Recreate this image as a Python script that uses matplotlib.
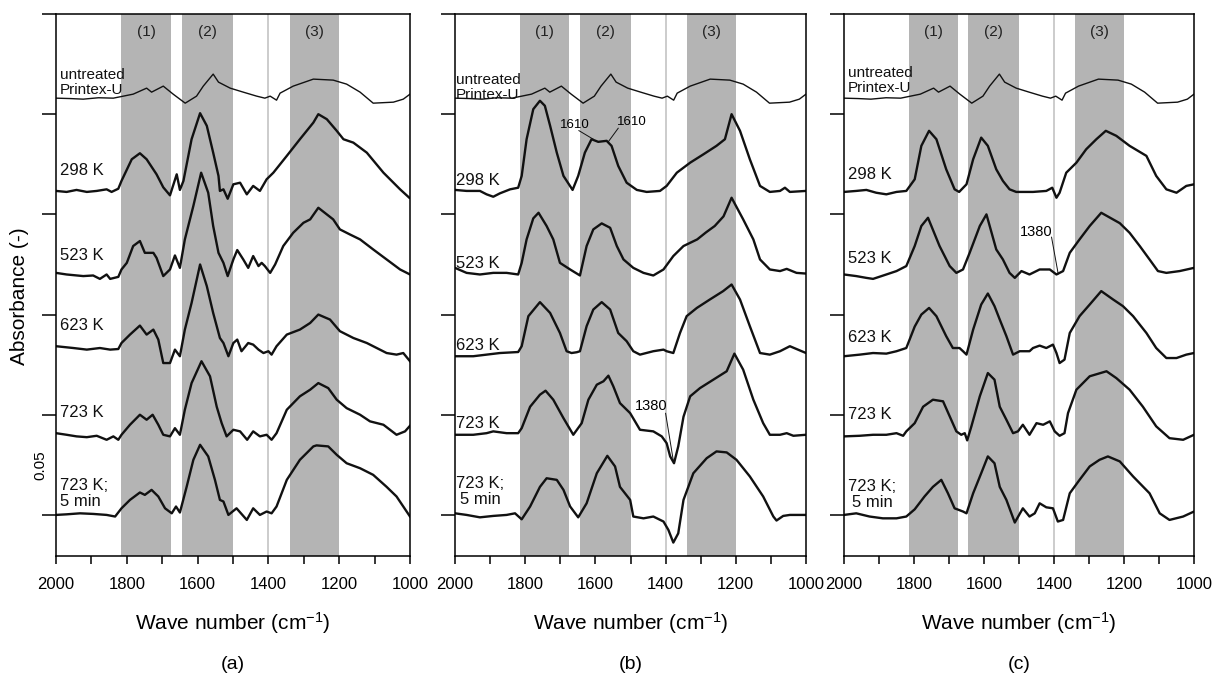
import matplotlib
matplotlib.use('Agg')
import matplotlib.pyplot as plt
from matplotlib.ticker import MultipleLocator
from matplotlib.transforms import blended_transform_factory

plt.rcParams['font.family'] = ['Liberation Sans', 'DejaVu Sans']
plt.rcParams['mathtext.fontset'] = 'custom'
plt.rcParams['mathtext.rm'] = 'Liberation Sans'
plt.rcParams['mathtext.default'] = 'regular'

# ---- data: wave number (cm-1) / absorbance (stacked, as plotted) ----
untreated_wn = [2000, 1960, 1923, 1880, 1838, 1810, 1782, 1744, 1730, 1697, 1669, 1635, 1603, 1584, 1556,
                1541, 1508, 1471, 1433, 1410, 1395, 1377, 1367, 1330, 1273, 1217, 1179, 1141, 1104,
                1047, 1019, 1000]
untreated_abs = [0.208, 0.2078, 0.2075, 0.2082, 0.208, 0.209, 0.210, 0.213, 0.211, 0.214, 0.210, 0.2055,
                 0.209, 0.214, 0.220, 0.216, 0.213, 0.211, 0.209, 0.208, 0.209, 0.207, 0.2105, 0.214,
                 0.2175, 0.217, 0.215, 0.211, 0.2055, 0.206, 0.2075, 0.210]

# panel (a)
a_298_wn = [2000, 1970, 1942, 1913, 1885, 1857, 1843, 1824, 1815, 1786, 1763, 1744, 1716, 1697, 1678,
            1659, 1650, 1640, 1617, 1593, 1574, 1556, 1541, 1537, 1527, 1515, 1499, 1480, 1461, 1443,
            1424, 1405, 1386, 1348, 1311, 1273, 1259, 1235, 1207, 1188, 1160, 1122, 1075, 1028, 1002]
a_298_abs = [0.1617, 0.1612, 0.1622, 0.1612, 0.1617, 0.1625, 0.1612, 0.1628, 0.1667, 0.1775, 0.1805,
             0.1775, 0.170, 0.1635, 0.1595, 0.170, 0.1622, 0.1667, 0.1875, 0.2005, 0.1942, 0.1808,
             0.1692, 0.1617, 0.1625, 0.1578, 0.165, 0.1658, 0.160, 0.1642, 0.1617, 0.1675, 0.1708,
             0.1792, 0.1875, 0.1958, 0.200, 0.1975, 0.1917, 0.1875, 0.1858, 0.1808, 0.1708, 0.1625,
             0.1583]
a_523_wn = [2000, 1970, 1923, 1895, 1876, 1857, 1847, 1824, 1815, 1800, 1782, 1763, 1749, 1725, 1716,
            1697, 1678, 1664, 1650, 1636, 1612, 1590, 1570, 1556, 1541, 1527, 1515, 1499, 1488, 1471,
            1457, 1443, 1428, 1419, 1410, 1395, 1381, 1358, 1330, 1301, 1282, 1259, 1217, 1198, 1170,
            1141, 1104, 1066, 1028, 1000]
a_523_abs = [0.1208, 0.120, 0.1192, 0.1195, 0.1178, 0.120, 0.1178, 0.1188, 0.1225, 0.1258, 0.1342,
             0.1367, 0.1308, 0.1308, 0.1283, 0.1192, 0.1225, 0.1295, 0.1233, 0.1375, 0.1542, 0.1708,
             0.1608, 0.1442, 0.1308, 0.1258, 0.1192, 0.1275, 0.1322, 0.1275, 0.1233, 0.1292, 0.1242,
             0.1258, 0.1242, 0.1208, 0.125, 0.1342, 0.1408, 0.1458, 0.1475, 0.1533, 0.1475, 0.1425,
             0.140, 0.1375, 0.1325, 0.1275, 0.1225, 0.120]
a_623_wn = [2000, 1951, 1913, 1876, 1847, 1824, 1815, 1791, 1763, 1744, 1725, 1711, 1697, 1678, 1664,
            1650, 1636, 1617, 1593, 1574, 1556, 1537, 1527, 1513, 1499, 1488, 1476, 1457, 1443, 1428,
            1414, 1400, 1391, 1377, 1348, 1311, 1282, 1259, 1226, 1198, 1160, 1122, 1094, 1066, 1038,
            1019, 1000]
a_623_abs = [0.0842, 0.0833, 0.0825, 0.0833, 0.0825, 0.0828, 0.0858, 0.090, 0.0945, 0.090, 0.0925,
             0.0875, 0.0758, 0.0758, 0.0825, 0.0792, 0.0925, 0.1058, 0.125, 0.1142, 0.1008, 0.0883,
             0.0858, 0.0792, 0.0858, 0.0875, 0.0817, 0.0858, 0.085, 0.0825, 0.0808, 0.0817, 0.080,
             0.0842, 0.090, 0.0925, 0.0958, 0.100, 0.0975, 0.0917, 0.0883, 0.0858, 0.0833, 0.0808,
             0.080, 0.0808, 0.0767]
a_723_wn = [2000, 1970, 1942, 1913, 1885, 1857, 1838, 1824, 1815, 1791, 1763, 1744, 1727, 1711, 1697,
            1678, 1664, 1650, 1636, 1617, 1589, 1565, 1546, 1532, 1518, 1499, 1480, 1460, 1443, 1424,
            1405, 1391, 1377, 1348, 1311, 1282, 1259, 1231, 1207, 1179, 1141, 1113, 1075, 1038, 1014,
            1000]
a_723_abs = [0.0408, 0.040, 0.0392, 0.0388, 0.0395, 0.0375, 0.0392, 0.0375, 0.040, 0.045, 0.050,
             0.0475, 0.050, 0.045, 0.040, 0.0392, 0.0433, 0.040, 0.0525, 0.0658, 0.0767, 0.0692,
             0.054, 0.0458, 0.0392, 0.0425, 0.0417, 0.0375, 0.0417, 0.0392, 0.040, 0.0375, 0.0408,
             0.0525, 0.0592, 0.0625, 0.0658, 0.0633, 0.0575, 0.0533, 0.050, 0.0467, 0.045, 0.040,
             0.0417, 0.0445]
a_5min_wn = [2000, 1970, 1932, 1895, 1857, 1833, 1815, 1791, 1763, 1749, 1730, 1711, 1692, 1673, 1661,
             1650, 1631, 1612, 1593, 1570, 1551, 1537, 1527, 1513, 1490, 1461, 1443, 1424, 1405, 1391,
             1377, 1348, 1311, 1273, 1264, 1231, 1207, 1179, 1141, 1104, 1066, 1038, 1000]
a_5min_abs = [0.0, 0.0003, 0.0008, 0.0005, 0.0, -0.0008, 0.0033, 0.0075, 0.0112, 0.010, 0.0125, 0.0092,
              0.0033, 0.0008, 0.0042, 0.0012, 0.014, 0.0275, 0.035, 0.0292, 0.0175, 0.0075, 0.0067,
              0.0, 0.0033, -0.0025, 0.0033, 0.0, 0.0017, 0.0008, 0.0042, 0.0175, 0.0275, 0.0342,
              0.0347, 0.0342, 0.030, 0.0258, 0.0233, 0.020, 0.014, 0.0092, -0.0008]

# panel (b)
b_298_wn = [2000, 1967, 1929, 1910, 1891, 1872, 1843, 1820, 1810, 1796, 1777, 1758, 1744, 1729, 1710,
            1691, 1665, 1649, 1630, 1611, 1592, 1568, 1554, 1535, 1511, 1482, 1454, 1416, 1397, 1368,
            1330, 1292, 1255, 1231, 1212, 1188, 1160, 1131, 1103, 1074, 1060, 1046, 1000]
b_298_abs = [0.1622, 0.1617, 0.1617, 0.160, 0.1588, 0.1605, 0.1625, 0.1633, 0.1692, 0.1875, 0.2025,
             0.2067, 0.2042, 0.1942, 0.1808, 0.1692, 0.1622, 0.1692, 0.1808, 0.1875, 0.1862, 0.1867,
             0.1842, 0.1742, 0.1658, 0.1622, 0.1612, 0.1617, 0.1642, 0.1708, 0.1758, 0.180, 0.1842,
             0.1875, 0.200, 0.1917, 0.1775, 0.1642, 0.1612, 0.1617, 0.1633, 0.1612, 0.1617]
b_523_wn = [2000, 1967, 1929, 1891, 1853, 1820, 1810, 1796, 1777, 1762, 1739, 1720, 1701, 1672, 1644,
            1625, 1606, 1582, 1558, 1539, 1520, 1492, 1463, 1435, 1406, 1378, 1349, 1310, 1285, 1260,
            1235, 1212, 1179, 1150, 1131, 1103, 1074, 1055, 1027, 1003]
b_523_abs = [0.1233, 0.1208, 0.120, 0.1208, 0.1208, 0.120, 0.1258, 0.1375, 0.148, 0.1508, 0.1442,
             0.1375, 0.1258, 0.1225, 0.1195, 0.1342, 0.1425, 0.1455, 0.1433, 0.1342, 0.1275, 0.1233,
             0.1208, 0.1195, 0.1225, 0.1292, 0.1342, 0.1375, 0.141, 0.1442, 0.149, 0.1583, 0.1475,
             0.1375, 0.1275, 0.1225, 0.1217, 0.1228, 0.1208, 0.1205]
b_623_wn = [2000, 1948, 1910, 1872, 1820, 1810, 1791, 1758, 1729, 1701, 1682, 1668, 1653, 1644, 1625,
            1606, 1582, 1558, 1535, 1511, 1492, 1473, 1435, 1406, 1397, 1378, 1359, 1340, 1311, 1274,
            1236, 1212, 1188, 1160, 1131, 1103, 1074, 1046, 1000]
b_623_abs = [0.0792, 0.0792, 0.080, 0.0808, 0.0813, 0.0842, 0.0992, 0.1062, 0.1008, 0.0908, 0.0817,
             0.0808, 0.0812, 0.0817, 0.0942, 0.1025, 0.1062, 0.1025, 0.0908, 0.0867, 0.0817, 0.080,
             0.0817, 0.0825, 0.0817, 0.0808, 0.0908, 0.0992, 0.1033, 0.1075, 0.1117, 0.115, 0.1075,
             0.0942, 0.0808, 0.080, 0.0817, 0.0842, 0.0808]
b_723_wn = [2000, 1948, 1910, 1891, 1853, 1820, 1810, 1786, 1758, 1742, 1720, 1691, 1663, 1639, 1620,
            1596, 1577, 1563, 1549, 1530, 1501, 1473, 1435, 1411, 1397, 1387, 1376, 1364, 1349, 1330,
            1302, 1264, 1226, 1204, 1179, 1150, 1122, 1103, 1074, 1055, 1036, 1000]
b_723_abs = [0.040, 0.040, 0.0408, 0.0417, 0.0408, 0.0408, 0.0433, 0.054, 0.060, 0.062, 0.0575, 0.0483,
             0.040, 0.0458, 0.0575, 0.065, 0.0667, 0.0695, 0.0642, 0.0558, 0.0508, 0.0425, 0.0417,
             0.0392, 0.0358, 0.0292, 0.0258, 0.0342, 0.049, 0.0592, 0.0633, 0.0675, 0.0717, 0.0805,
             0.0725, 0.0575, 0.0458, 0.040, 0.040, 0.0408, 0.0395, 0.040]
b_5min_wn = [2000, 1967, 1929, 1891, 1853, 1829, 1810, 1786, 1758, 1739, 1710, 1691, 1672, 1649, 1625,
             1596, 1566, 1544, 1530, 1501, 1492, 1463, 1435, 1406, 1392, 1378, 1364, 1349, 1321, 1283,
             1255, 1226, 1198, 1160, 1122, 1093, 1084, 1065, 1046, 1000]
b_5min_abs = [0.0008, 0.0, -0.0012, -0.0005, 0.0, 0.0008, -0.0022, 0.0042, 0.014, 0.0183, 0.0175,
              0.0125, 0.0042, -0.0012, 0.0058, 0.0208, 0.0295, 0.0242, 0.014, 0.0075, -0.0008, -0.0017,
              -0.0008, -0.0033, -0.0075, -0.0138, -0.0092, 0.0075, 0.0208, 0.0283, 0.0317, 0.0312,
              0.0275, 0.0192, 0.0092, -0.0008, -0.0028, -0.0005, 0.0, 0.0]

# panel (c)
c_298_wn = [2000, 1965, 1936, 1908, 1879, 1850, 1822, 1798, 1779, 1757, 1736, 1708, 1684, 1671, 1650,
            1631, 1608, 1589, 1565, 1546, 1527, 1508, 1460, 1422, 1405, 1393, 1384, 1365, 1336, 1308,
            1279, 1252, 1222, 1184, 1136, 1108, 1079, 1050, 1022, 1000]
c_298_abs = [0.1612, 0.1617, 0.1622, 0.1608, 0.160, 0.1612, 0.1617, 0.1675, 0.1842, 0.1917, 0.1875,
             0.1725, 0.1625, 0.1612, 0.165, 0.1775, 0.1883, 0.1842, 0.1725, 0.1667, 0.1625, 0.1612,
             0.1612, 0.1617, 0.1633, 0.1583, 0.1608, 0.1708, 0.1758, 0.1825, 0.1875, 0.1917, 0.1892,
             0.1842, 0.1792, 0.1692, 0.1625, 0.1608, 0.1642, 0.165]
c_523_wn = [2000, 1965, 1936, 1917, 1879, 1850, 1822, 1798, 1779, 1760, 1727, 1698, 1679, 1660, 1641,
            1612, 1593, 1565, 1546, 1527, 1512, 1493, 1470, 1441, 1412, 1393, 1374, 1355, 1327, 1298,
            1265, 1212, 1184, 1155, 1127, 1103, 1079, 1041, 1000]
c_523_abs = [0.120, 0.1192, 0.1183, 0.1178, 0.120, 0.1217, 0.1242, 0.1342, 0.1442, 0.1483, 0.1342,
             0.1242, 0.1208, 0.1225, 0.1308, 0.1442, 0.150, 0.1325, 0.1275, 0.1208, 0.1183, 0.1217,
             0.120, 0.1225, 0.1225, 0.120, 0.1217, 0.1308, 0.1375, 0.1442, 0.1508, 0.1456, 0.1408,
             0.1342, 0.1275, 0.1217, 0.1208, 0.1217, 0.1233]
c_623_wn = [2000, 1955, 1917, 1879, 1850, 1822, 1798, 1779, 1757, 1736, 1708, 1689, 1670, 1660, 1650,
            1631, 1608, 1589, 1570, 1555, 1536, 1517, 1498, 1470, 1460, 1441, 1422, 1403, 1393, 1384,
            1370, 1355, 1327, 1298, 1265, 1231, 1203, 1174, 1136, 1108, 1079, 1050, 1022, 1000]
c_623_abs = [0.0792, 0.080, 0.0808, 0.0805, 0.0817, 0.0833, 0.094, 0.100, 0.1033, 0.0992, 0.0892,
             0.0833, 0.0833, 0.0817, 0.080, 0.0925, 0.105, 0.1105, 0.1042, 0.0975, 0.0892, 0.080,
             0.0817, 0.0817, 0.0833, 0.0845, 0.0833, 0.085, 0.0808, 0.0758, 0.0775, 0.0908, 0.0992,
             0.105, 0.1117, 0.1075, 0.1042, 0.0992, 0.0908, 0.0833, 0.0783, 0.0783, 0.080, 0.0808]
c_723_wn = [2000, 1955, 1917, 1879, 1850, 1831, 1822, 1798, 1774, 1746, 1717, 1698, 1679, 1665, 1655,
            1648, 1636, 1612, 1589, 1570, 1555, 1536, 1517, 1503, 1489, 1470, 1450, 1431, 1412, 1398,
            1384, 1370, 1360, 1336, 1298, 1250, 1222, 1184, 1146, 1108, 1070, 1031, 1000]
c_723_abs = [0.0392, 0.0395, 0.040, 0.040, 0.0408, 0.0395, 0.0417, 0.0458, 0.054, 0.0575, 0.0567,
             0.0492, 0.0417, 0.040, 0.0408, 0.0372, 0.0442, 0.0592, 0.0708, 0.0675, 0.054, 0.0475,
             0.0408, 0.0417, 0.045, 0.040, 0.0458, 0.045, 0.0467, 0.0417, 0.0395, 0.0408, 0.0508,
             0.0625, 0.0692, 0.0717, 0.0683, 0.0625, 0.054, 0.0442, 0.0383, 0.0375, 0.040]
c_5min_wn = [2000, 1965, 1927, 1889, 1850, 1822, 1798, 1770, 1746, 1722, 1703, 1684, 1660, 1650, 1631,
             1608, 1589, 1570, 1555, 1536, 1512, 1489, 1470, 1455, 1441, 1422, 1403, 1389, 1374, 1355,
             1327, 1298, 1270, 1246, 1212, 1174, 1127, 1098, 1070, 1031, 1000]
c_5min_abs = [0.0, 0.0008, -0.0008, -0.0017, -0.0017, -0.0008, 0.0028, 0.0092, 0.014, 0.0175, 0.0108,
              0.0033, 0.0017, 0.0008, 0.0108, 0.0208, 0.0292, 0.0258, 0.014, 0.0075, -0.0038, 0.0033,
              -0.0008, 0.0008, 0.0058, 0.0038, 0.0033, -0.0033, -0.0025, 0.0108, 0.0175, 0.0242,
              0.0275, 0.0292, 0.0267, 0.0192, 0.0108, 0.0008, -0.0025, -0.0008, 0.0017]

curve_names = ['untreated\nPrintex-U', '298 K', '523 K', '623 K', '723 K', '723 K;\n5 min']
bands = [(1815, 1675), (1645, 1500), (1340, 1200)]
band_names = ['(1)', '(2)', '(3)']
panel_letters = ['(a)', '(b)', '(c)']

panels = [
    [(untreated_wn, untreated_abs), (a_298_wn, a_298_abs), (a_523_wn, a_523_abs),
     (a_623_wn, a_623_abs), (a_723_wn, a_723_abs), (a_5min_wn, a_5min_abs)],
    [(untreated_wn, untreated_abs), (b_298_wn, b_298_abs), (b_523_wn, b_523_abs),
     (b_623_wn, b_623_abs), (b_723_wn, b_723_abs), (b_5min_wn, b_5min_abs)],
    [(untreated_wn, untreated_abs), (c_298_wn, c_298_abs), (c_523_wn, c_523_abs),
     (c_623_wn, c_623_abs), (c_723_wn, c_723_abs), (c_5min_wn, c_5min_abs)],
]

# label placement per panel
label_x = [1989, 1997, 1989]
label_y = [[0.2158, 0.172, 0.1297, 0.0943, 0.0509, 0.0105],
           [0.2135, 0.167, 0.1257, 0.0848, 0.0454, 0.0115],
           [0.2168, 0.1697, 0.128, 0.0883, 0.0499, 0.010]]
axes_left = [56, 455, 844]
axes_right = [410, 806, 1194]

W, H = 1216, 676
fig = plt.figure(figsize=(W / 100, H / 100), dpi=100)

axes = []
for i in range(3):
    ax = fig.add_axes([axes_left[i] / W, 1 - 556 / H,
                       (axes_right[i] - axes_left[i]) / W, (556 - 14) / H])
    axes.append(ax)

    for (lo, hi), name in zip(bands, band_names):
        ax.axvspan(hi, lo, color='#b4b4b4', lw=0, zorder=0)
        ax.text((lo + hi) / 2, 0.241, name, ha='center', va='center', fontsize=11, color='#222222')
    ax.axvline(1400, color='#c4c4c4', lw=1.2, zorder=0.5)

    for j, (wn, ab) in enumerate(panels[i]):
        ax.plot(wn, ab, color='#111111', lw=1.0 if j == 0 else 1.7, zorder=2)
        fs = 11 if j == 0 else 12
        ma = 'left' if (i == 0 or j == 0) else 'center'
        ax.text(label_x[i], label_y[i][j], curve_names[j], ha='left', va='center',
                fontsize=fs, linespacing=1.1, multialignment=ma, color='#111111', zorder=3)

    ax.set_xlim(2000, 1000)
    ax.set_ylim(-0.0205, 0.25)
    ax.set_xticks([2000, 1800, 1600, 1400, 1200, 1000])
    ax.xaxis.set_minor_locator(MultipleLocator(100))
    ax.set_yticks([0, 0.05, 0.10, 0.15, 0.20, 0.25])
    ax.set_yticklabels([])
    ax.tick_params(axis='x', which='both', direction='out', length=6, width=1.1,
                   labelsize=12, pad=9)
    ax.tick_params(axis='y', direction='out', length=10, width=1.1)
    for sp in ax.spines.values():
        sp.set_linewidth(1.1)

    ax.text(0.5, -0.124, 'Wave number (cm$^{-1}$)', transform=ax.transAxes,
            ha='center', va='center', fontsize=15)
    ax.text(0.5, -0.201, panel_letters[i], transform=ax.transAxes,
            ha='center', va='center', fontsize=14)

# scale label and y label
ax_a, ax_b, ax_c = axes
trans = blended_transform_factory(ax_a.transAxes, ax_a.transData)
ax_a.text(-0.045, 0.025, '0.05', transform=trans, rotation=90, ha='center', va='center', fontsize=11)
fig.text(20 / W, 1 - 296 / H, 'Absorbance (-)', rotation=90, ha='center', va='center', fontsize=15)

# peak annotations
ax_b.text(1658, 0.1946, '1610', ha='center', va='center', fontsize=9.5)
ax_b.plot([1647, 1606], [0.1918, 0.1875], color='#111111', lw=0.7)
ax_b.text(1497, 0.1963, '1610', ha='center', va='center', fontsize=9.5)
ax_b.plot([1535, 1563], [0.193, 0.1863], color='#111111', lw=0.7)
ax_b.text(1440, 0.0544, '1380', ha='center', va='center', fontsize=10.5)
ax_b.plot([1400, 1378], [0.0507, 0.0271], color='#111111', lw=0.7)
ax_c.text(1452, 0.1414, '1380', ha='center', va='center', fontsize=10.5)
ax_c.plot([1407, 1388], [0.1386, 0.1203], color='#111111', lw=0.7)

fig.savefig('out.png', dpi=100)
